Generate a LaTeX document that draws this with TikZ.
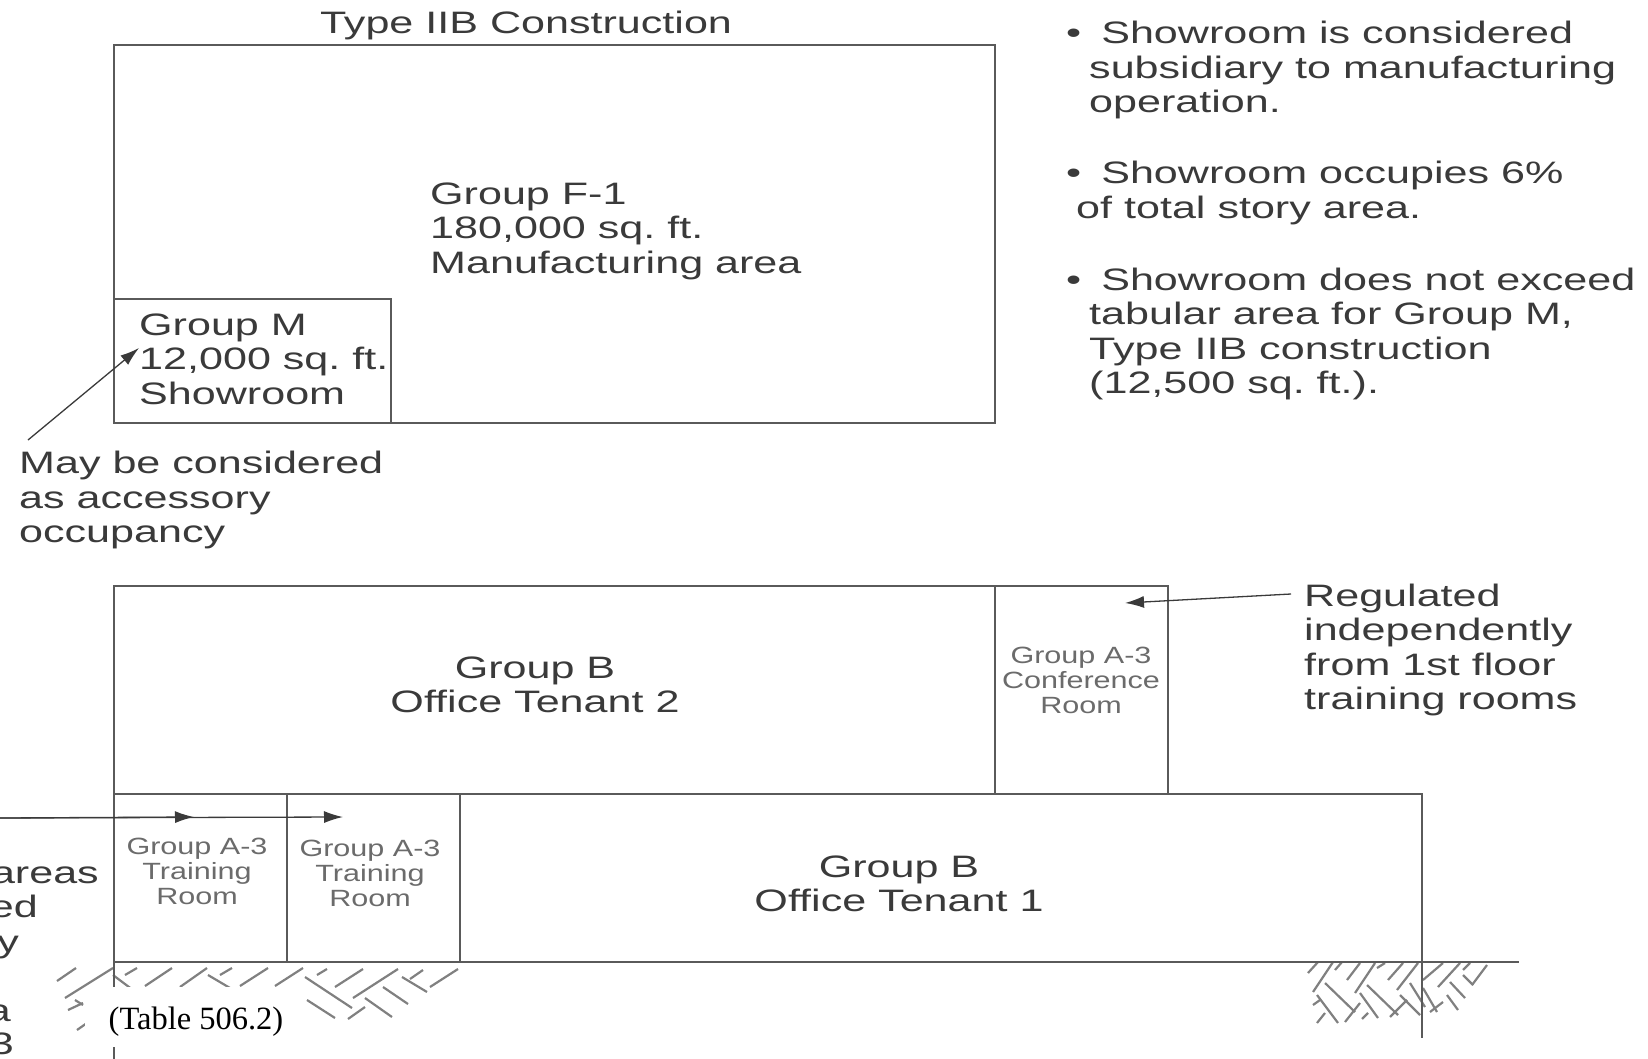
\documentclass[tikz,border=0pt]{standalone}
\usepackage{fontspec}
\setmainfont[FakeStretch=1.39]{Liberation Sans}
\newfontfamily\roomfont[FakeStretch=1.3]{Liberation Sans}
\newfontfamily\tablefont{Liberation Serif}
\usetikzlibrary{arrows.meta}
\definecolor{inkgray}{HTML}{3A3A3A}
\definecolor{wallgray}{HTML}{5A5A5A}
\definecolor{hatchgray}{HTML}{808080}
\tikzset{
  wall/.style={draw=wallgray,line width=2.4pt},
  hatchline/.style={draw=hatchgray,line width=2.2pt},
  pointer/.style={draw=inkgray,line width=1.3pt,-{Latex[length=19pt,width=12pt]}},
  biglabel/.style={inner sep=0pt,text=inkgray,font=\fontsize{31}{34.5}\selectfont},
  roomlabel/.style={inner sep=0pt,text=inkgray!75,align=center,font=\roomfont\fontsize{23.5}{25}\selectfont},
}
\begin{document}
\frenchspacing
\begin{tikzpicture}[x=1pt,y=-1pt]
\useasboundingbox (0,0) rectangle (1648,1059);
% hatching
\foreach \xa/\ya/\xb/\yb in {57/981/76/968,65/998/113/968,125/975/137/968,145/986/172/968,180/987/207/968,220/975/232/968,240/986/268/968,275/986/303/968,317/975/327/969,335/987/363/969,353/998/398/969,410/979/423/970,430/987/458/969,348/1019/365/1007,113/975/133/990,208/975/230/988,305/977/352/1008,383/987/408/1004,402/977/427/992,365/998/392/1017,307/1000/335/1018,75/1000/83/1005,68/1010/83/1003,77/1030/87/1023}
  \draw[hatchline] (\xa,\ya) -- (\xb,\yb);
\foreach \xa/\ya/\xb/\yb in {1308/973/1318/962,1313/992/1333/962,1335/970/1342/962,1347/980/1360/963,1355/993/1375/963,1377/968/1385/963,1388/980/1403/963,1397/990/1418/963,1423/980/1443/963,1438/987/1460/963,1463/970/1470/963,1472/985/1487/965,1313/1005/1320/1000,1317/1023/1325/1013,1345/1022/1360/1003,1362/1019/1368/1013,1390/1017/1407/1000,1430/1012/1443/1002,1325/983/1355/1012,1317/995/1338/1023,1360/993/1378/1018,1367/985/1398/1015,1400/995/1420/1015,1410/983/1425/1007,1423/988/1437/1012,1447/995/1458/1010,1450/982/1465/998,1463/975/1473/985}
  \draw[hatchline] (\xa,\ya) -- (\xb,\yb);
% upper building
\draw[wall] (114,45) rectangle (995,423);
\draw[wall] (114,299) rectangle (391,423);
% lower building
\draw[wall] (114,586) rectangle (995,794);
\draw[wall] (995,586) rectangle (1168,794);
\draw[wall] (114,794) rectangle (1422,962);
\draw[wall] (287,794) -- (287,962);
\draw[wall] (460,794) -- (460,962);
\draw[wall] (114,962) -- (1519,962);
\draw[wall] (114,962) -- (114,1059);
\draw[wall] (1422,962) -- (1422,1038);
\fill[white] (85,987) rectangle (306,1047);
\node[inner sep=0pt,font=\tablefont\fontsize{32.5}{35}\selectfont] (tablenote) at (196,1022) {(Table 506.2)};
% labels
\node[biglabel] (title) at (526,25) {Type IIB Construction};
\node[biglabel,anchor=west,align=left] (groupf) at (430,231) {Group F-1\\180,000 sq. ft.\\Manufacturing area};
\node[biglabel,anchor=west,align=left] (groupm) at (139,359) {Group M\\12,000 sq. ft.\\Showroom};
\node[biglabel,anchor=west,align=left] (accessory) at (19,500) {May be considered\\as accessory\\occupancy};
\node[biglabel,align=center] (tenanttwo) at (535,685) {Group B\\Office Tenant 2};
\node[biglabel,align=center] (tenantone) at (899,884) {Group B\\Office Tenant 1};
\node[biglabel,anchor=west,align=left] (regulated) at (1304,650) {Regulated\\independently\\from 1st floor\\training rooms};
\node[roomlabel] (conference) at (1081,680) {Group A-3\\Conference\\Room};
\node[roomlabel] (trainingone) at (197,871) {Group A-3\\Training\\Room};
\node[roomlabel] (trainingtwo) at (370,873) {Group A-3\\Training\\Room};
% bullets
\node[biglabel,anchor=west,align=left] (bulletone) at (1066,70) {•\hspace{20pt}Showroom is considered\\\hspace*{23pt}subsidiary to manufacturing\\\hspace*{23pt}operation.};
\node[biglabel,anchor=west,align=left] (bullettwo) at (1066,193) {•\hspace{20pt}Showroom occupies 6\%\\\hspace*{10pt}of total story area.};
\node[biglabel,anchor=west,align=left] (bulletthree) at (1066,334) {•\hspace{20pt}Showroom does not exceed\\\hspace*{23pt}tabular area for Group M,\\\hspace*{23pt}Type IIB construction\\\hspace*{23pt}(12,500 sq. ft.).};
% text cut off at the left edge
\foreach \n/\y/\t/\r in {leftareas/875/areas/99,lefted/906/ed/38,lefty/948/y/19,lefta/1013/a/11,leftthree/1044/3/14}
  \node[biglabel,anchor=east] (\n) at (\r,\y) {\t};
% arrows
\coordinate (accessorytail) at (28,440);
\coordinate (showroomtip) at (139,348);
\coordinate (regulatedtail) at (1291,594);
\coordinate (conferencetip) at (1125,603);
\coordinate (trainingtail) at (0,818);
\coordinate (trainingonetip) at (194,817);
\coordinate (trainingtwotip) at (343,817);
\draw[pointer] (accessorytail) -- (showroomtip);
\draw[pointer] (regulatedtail) -- (conferencetip);
\draw[pointer] (trainingtail) -- (trainingonetip);
\draw[pointer] (trainingtail) -- (trainingtwotip);
\end{tikzpicture}
\end{document}
